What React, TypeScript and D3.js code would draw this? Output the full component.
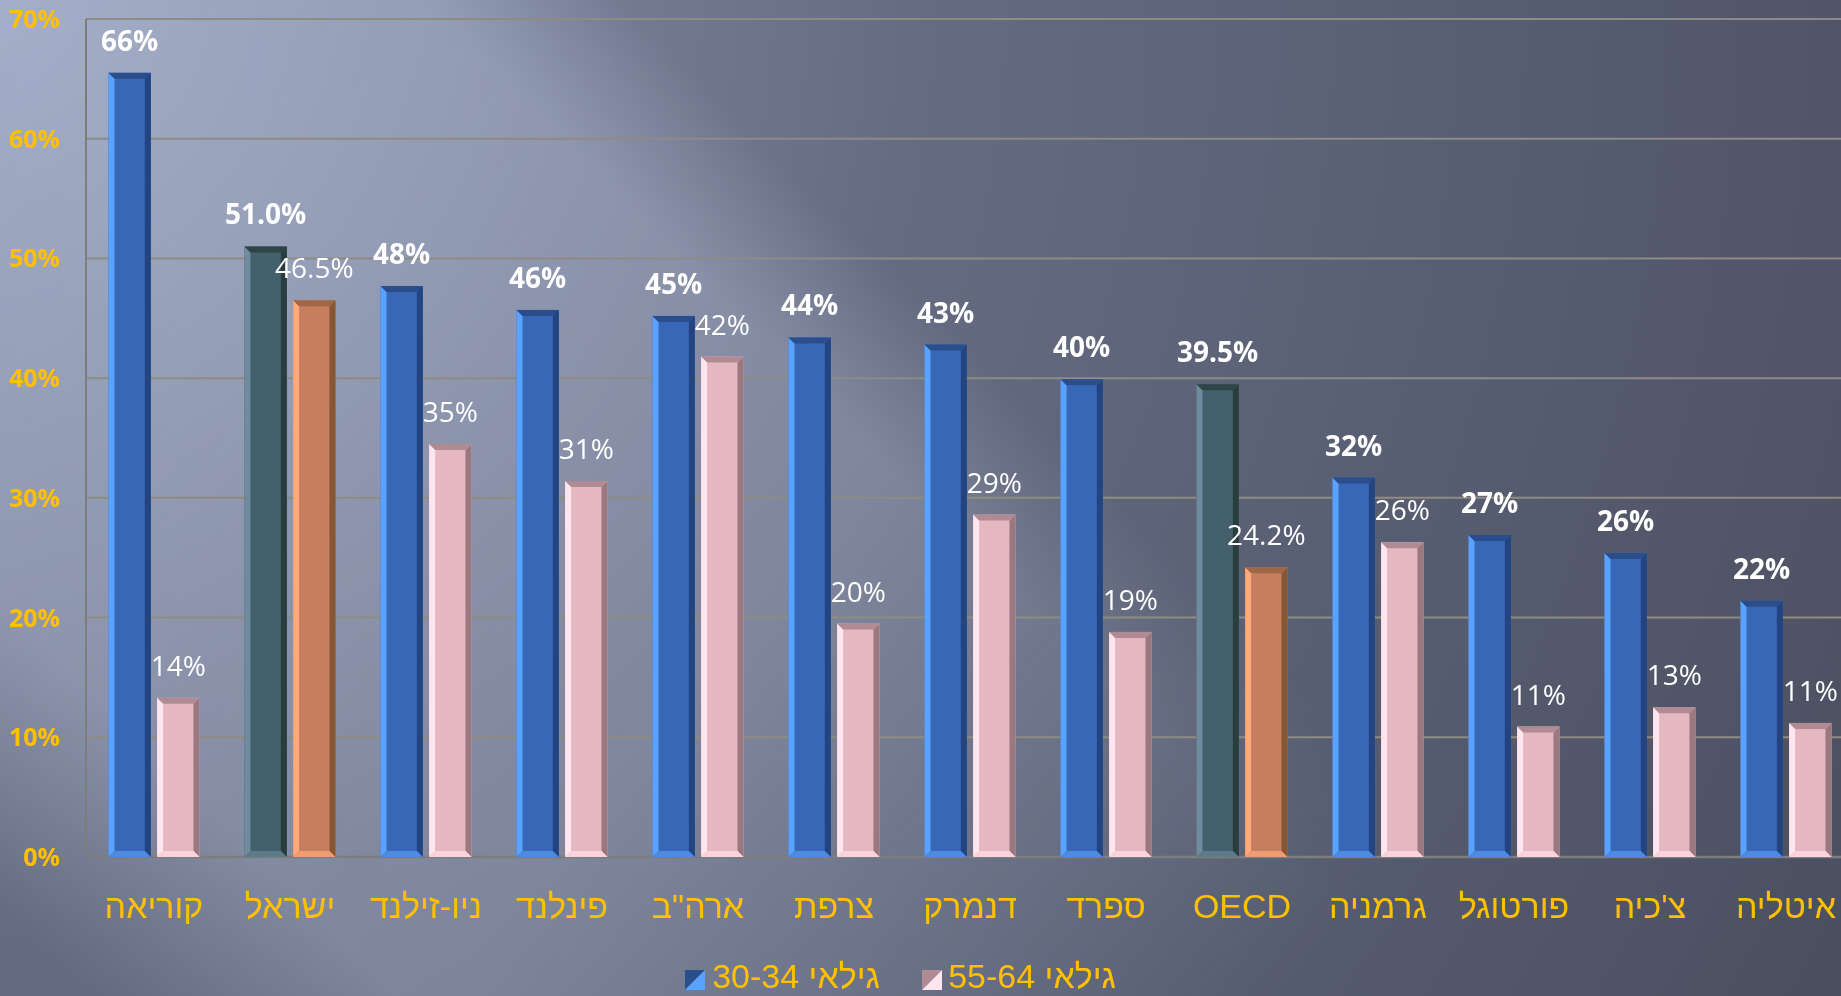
import React from "react";
import * as d3 from "d3";

const categories = ["קוריאה", "ישראל", "ניו-זילנד", "פינלנד", 'ארה"ב', "צרפת", "דנמרק", "ספרד", "OECD", "גרמניה", "פורטוגל", "צ'כיה", "איטליה"];
const young = [65.5, 51.0, 47.7, 45.7, 45.2, 43.4, 42.8, 39.9, 39.5, 31.7, 26.9, 25.4, 21.4];
const old = [13.3, 46.5, 34.5, 31.4, 41.8, 19.5, 28.6, 18.8, 24.2, 26.3, 10.9, 12.5, 11.2];
const youngLabels = ["66%", "51.0%", "48%", "46%", "45%", "44%", "43%", "40%", "39.5%", "32%", "27%", "26%", "22%"];
const oldLabels = ["14%", "46.5%", "35%", "31%", "42%", "20%", "29%", "19%", "24.2%", "26%", "11%", "13%", "11%"];
const highlighted = ["ישראל", "OECD"];
const seriesNames = ["גילאי 30-34", "גילאי 55-64"];
const yTicks = [0, 10, 20, 30, 40, 50, 60, 70];

const W = 1841;
const H = 996;

type Pal = { main: string; left: string; right: string; top: string; bottom: string };
const BLUE: Pal = { main: "#3867b7", left: "#5aa2ff", right: "#234481", top: "#2a4e8b", bottom: "#4d8ae2" };
const PINK: Pal = { main: "#e5b7c0", left: "#ffe6ee", right: "#9c7780", top: "#b18b94", bottom: "#fad4dc" };
const SLATE: Pal = { main: "#45606d", left: "#6f8b9d", right: "#283e3e", top: "#2e4447", bottom: "#5d7c8a" };
const ORANGE: Pal = { main: "#c57e5e", left: "#ffa97c", right: "#875733", top: "#9f6747", bottom: "#f09c72" };

const YELLOW = "#FFC000";
const VALUE_FONT = "'Open Sans', 'DejaVu Sans', sans-serif";
const HEB_FONT = "'Liberation Sans', 'DejaVu Sans', sans-serif";

function Bar({ x, w, yTop, yBase, pal }: { x: number; w: number; yTop: number; yBase: number; pal: Pal }) {
  const b = Math.min(6, (yBase - yTop) / 2);
  const r = x + w;
  const pts = (a: number[][]) => a.map((p) => p.join(",")).join(" ");
  return (
    <g>
      <rect x={x} y={yTop} width={w} height={yBase - yTop} fill={pal.main} />
      <polygon points={pts([[x, yTop], [x + b, yTop + b], [x + b, yBase - b], [x, yBase]])} fill={pal.left} />
      <polygon points={pts([[r, yTop], [r - b, yTop + b], [r - b, yBase - b], [r, yBase]])} fill={pal.right} />
      <polygon points={pts([[x, yTop], [r, yTop], [r - b, yTop + b], [x + b, yTop + b]])} fill={pal.top} />
      <polygon points={pts([[x, yBase], [r, yBase], [r - b, yBase - b], [x + b, yBase - b]])} fill={pal.bottom} />
    </g>
  );
}

export default function App() {
  const y = d3.scaleLinear().domain([0, 70]).range([857, 19]);
  const x0 = d3
    .scaleBand<string>()
    .domain(categories)
    .range([86, 86 + categories.length * 136])
    .paddingInner(0.331)
    .paddingOuter(0.1655);
  const x1 = d3.scaleBand<string>().domain(["a", "b"]).range([0, x0.bandwidth()]).paddingInner(0.13);
  const base = y(0);

  return (
    <svg width={W} height={H} style={{ position: "fixed", left: 0, top: 0, display: "block" }}>
      <defs>
        <radialGradient id="bgRad" cx={0} cy={0} r={2050} gradientUnits="userSpaceOnUse">
          <stop offset="0" stopColor="#8f99b4" />
          <stop offset="0.45" stopColor="#656c82" />
          <stop offset="1" stopColor="#4b5061" />
        </radialGradient>
        <linearGradient id="beam" x1={0} y1={0} x2={1300} y2={996} gradientUnits="userSpaceOnUse">
          <stop offset="0" stopColor="#d2dcf5" stopOpacity={0.32} />
          <stop offset="0.6" stopColor="#d2dcf5" stopOpacity={0.25} />
          <stop offset="1" stopColor="#d2dcf5" stopOpacity={0} />
        </linearGradient>
        <linearGradient id="beamMaskGrad" x1={0} y1={996} x2={1420} y2={-424} gradientUnits="userSpaceOnUse">
          <stop offset="0.03" stopColor="#000" />
          <stop offset="0.14" stopColor="#fff" />
          <stop offset="0.5" stopColor="#fff" />
          <stop offset="0.57" stopColor="#000" />
        </linearGradient>
        <mask id="beamMask" maskUnits="userSpaceOnUse" x={0} y={0} width={W} height={H}>
          <rect x={0} y={0} width={W} height={H} fill="url(#beamMaskGrad)" />
        </mask>
      </defs>
      <rect x={0} y={0} width={W} height={H} fill="url(#bgRad)" />
      <rect x={0} y={0} width={W} height={H} fill="url(#beam)" mask="url(#beamMask)" />

      {/* grid */}
      {yTicks.map((t) => (
        <line key={t} x1={86} x2={W} y1={y(t)} y2={y(t)} stroke="#8e8b82" strokeWidth={2} />
      ))}
      <line x1={86} x2={86} y1={y(70)} y2={base} stroke="#7d7d7d" strokeWidth={2} />
      <line x1={86} x2={W} y1={base} y2={base} stroke="#7d7d7d" strokeWidth={2.5} />

      {/* y tick labels */}
      {yTicks.map((t) => (
        <text
          key={t}
          x={60}
          y={y(t)}
          dy="0.36em"
          textAnchor="end"
          fontFamily={VALUE_FONT}
          fontWeight="bold"
          fontSize={25}
          fill={YELLOW}
        >
          {t}%
        </text>
      ))}

      {/* bars */}
      {categories.map((c, i) => {
        const hl = highlighted.includes(c);
        const gx = x0(c)!;
        const xa = gx + x1("a")!;
        const xb = gx + x1("b")!;
        const bw = x1.bandwidth();
        return (
          <g key={c}>
            <Bar x={xa} w={bw} yTop={y(young[i])} yBase={base} pal={hl ? SLATE : BLUE} />
            <Bar x={xb} w={bw} yTop={y(old[i])} yBase={base} pal={hl ? ORANGE : PINK} />
            <text
              x={xa + bw / 2}
              y={y(young[i]) - 22}
              textAnchor="middle"
              fontFamily={VALUE_FONT}
              fontWeight="bold"
              fontSize={28}
              fill="#ffffff"
            >
              {youngLabels[i]}
            </text>
            <text
              x={xb + bw / 2}
              y={y(old[i]) - 22}
              textAnchor="middle"
              fontFamily={VALUE_FONT}
              fontSize={28}
              fill="#ffffff"
            >
              {oldLabels[i]}
            </text>
            <text
              x={gx + x0.bandwidth() / 2}
              y={918}
              textAnchor="middle"
              fontFamily={HEB_FONT}
              fontSize={34}
              fill={YELLOW}
            >
              {c}
            </text>
          </g>
        );
      })}

      {/* legend */}
      {[BLUE, PINK].map((pal, k) => {
        const sx = k === 0 ? 685 : 922;
        const tx = k === 0 ? 880 : 1116;
        const sy = 970;
        const s = 20;
        return (
          <g key={k}>
            <polygon points={`${sx},${sy} ${sx + s},${sy} ${sx},${sy + s}`} fill={pal.top} />
            <polygon points={`${sx + s},${sy} ${sx + s},${sy + s} ${sx},${sy + s}`} fill={pal.left} />
            <text
              x={tx}
              y={988}
              direction="rtl"
              textAnchor="start"
              fontFamily={HEB_FONT}
              fontSize={34}
              fill={YELLOW}
            >
              {seriesNames[k]}
            </text>
          </g>
        );
      })}
    </svg>
  );
}
